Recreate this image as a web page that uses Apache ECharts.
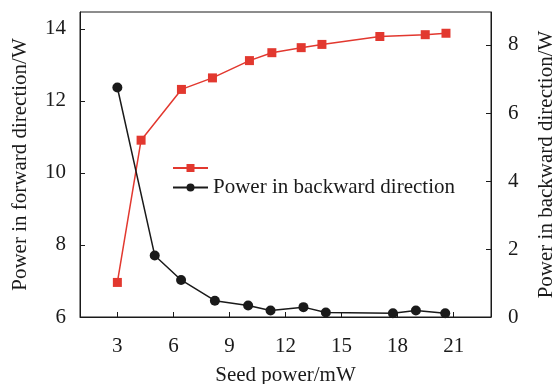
<!DOCTYPE html>
<html>
<head>
<meta charset="utf-8">
<script src="https://cdn.jsdelivr.net/npm/echarts@6/dist/echarts.min.js"></script>
<style>
    html, body { margin: 0; padding: 0; background: #fff; }
    #chart { width: 552px; height: 384px; }
</style>
</head>
<body>
<div id="chart"></div>
<script>
// 正向功率（左轴）
const forwardSeed = [3.0, 4.27, 6.43, 8.09, 10.07, 11.27, 12.84, 13.95, 17.05, 19.48, 20.59];
const forwardPower = [6.96, 10.91, 12.32, 12.64, 13.12, 13.34, 13.48, 13.57, 13.79, 13.84, 13.88];
// 反向功率（右轴）
const backwardSeed = [3.0, 5.0, 6.41, 8.22, 10.0, 11.2, 12.96, 14.16, 17.75, 18.98, 20.55];
const backwardPower = [6.75, 1.81, 1.09, 0.48, 0.34, 0.19, 0.29, 0.13, 0.11, 0.19, 0.11];
// 刻度
const xTicks = [3, 6, 9, 12, 15, 18, 21];
const leftTicks = [6, 8, 10, 12, 14];
const rightTicks = [0, 2, 4, 6, 8];

const FONT = '"Liberation Serif", "Times New Roman", serif';
const INK = '#1a1a1a';

const pairs = (xs, ys) => xs.map((x, i) => [x, ys[i]]);

const axisCommon = {
    axisLine: { show: true, lineStyle: { color: INK, width: 1 } },
    axisTick: { show: true, inside: true, length: 5, lineStyle: { color: INK } },
    splitLine: { show: false },
    axisLabel: { color: INK, fontFamily: FONT, fontSize: 21 },
    nameTextStyle: { color: INK, fontFamily: FONT, fontSize: 21 },
    nameLocation: 'middle'
};

const chart = echarts.init(document.getElementById('chart'));
chart.setOption({
    animation: false,
    backgroundColor: '#fff',
    grid: {
        left: 80, right: 61, top: 12, bottom: 67,
        containLabel: false,
        outerBoundsMode: 'none',
        show: true, borderColor: INK, borderWidth: 1
    },
    legend: {
        orient: 'vertical',
        left: 167, top: 158,
        itemWidth: 35, itemHeight: 10, itemGap: 5,
        textStyle: { color: INK, fontFamily: FONT, fontSize: 21 },
        formatter: name => name === 'Power in forward direction' ? '' : name,
        data: ['Power in forward direction', 'Power in backward direction']
    },
    xAxis: Object.assign({}, axisCommon, {
        type: 'value',
        min: 1, max: 23,
        name: 'Seed power/mW',
        nameGap: 48,
        axisTick: Object.assign({}, axisCommon.axisTick, { customValues: xTicks }),
        axisLabel: Object.assign({}, axisCommon.axisLabel, { customValues: xTicks, margin: 19 })
    }),
    yAxis: [
        Object.assign({}, axisCommon, {
            type: 'value',
            position: 'left',
            min: 6, max: 14.47,
            name: 'Power in forward direction/W',
            nameGap: 49,
            axisTick: Object.assign({}, axisCommon.axisTick, { customValues: leftTicks }),
            axisLabel: Object.assign({}, axisCommon.axisLabel, { customValues: leftTicks, margin: 14 })
        }),
        Object.assign({}, axisCommon, {
            type: 'value',
            position: 'right',
            min: 0, max: 8.97,
            name: 'Power in backward direction/W',
            nameGap: 45,
            axisTick: Object.assign({}, axisCommon.axisTick, { customValues: rightTicks }),
            axisLabel: Object.assign({}, axisCommon.axisLabel, { customValues: rightTicks, margin: 17 })
        })
    ],
    series: [
        {
            name: 'Power in forward direction',
            type: 'line',
            yAxisIndex: 0,
            data: pairs(forwardSeed, forwardPower),
            symbol: 'rect',
            symbolSize: 9,
            color: '#e2382f',
            lineStyle: { width: 1.5, color: '#e2382f' },
            itemStyle: { color: '#e2382f' }
        },
        {
            name: 'Power in backward direction',
            type: 'line',
            yAxisIndex: 1,
            data: pairs(backwardSeed, backwardPower),
            symbol: 'circle',
            symbolSize: 10,
            color: INK,
            lineStyle: { width: 1.5, color: INK },
            itemStyle: { color: INK }
        }
    ]
});
</script>
</body>
</html>
